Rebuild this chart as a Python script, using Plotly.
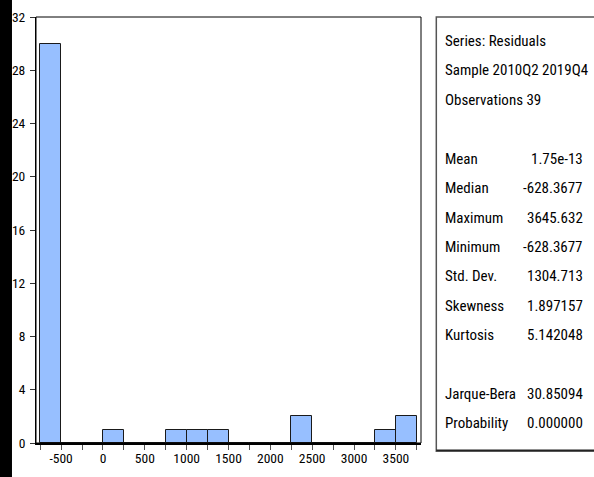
import plotly.graph_objects as go

# ---- data ----
bin_start = [-750, -500, -250, 0, 250, 500, 750, 1000, 1250, 1500, 1750, 2000, 2250, 2500, 2750, 3000, 3250, 3500]
counts = [30, 0, 0, 1, 0, 0, 1, 1, 1, 0, 0, 0, 2, 0, 0, 0, 1, 2]
bin_width = 250
x_tick_vals = [-750, -500, -250, 0, 250, 500, 750, 1000, 1250, 1500, 1750, 2000, 2250, 2500, 2750, 3000, 3250, 3500, 3750]
x_tick_text = ["", "-500", "", "0", "", "500", "", "1000", "", "1500", "", "2000", "", "2500", "", "3000", "", "3500", ""]
y_tick_vals = [0, 4, 8, 12, 16, 20, 24, 28, 32]

header_lines = ["Series: Residuals", "Sample 2010Q2 2019Q4", "Observations 39"]
stat_names = ["Mean", "Median", "Maximum", "Minimum", "Std. Dev.", "Skewness", "Kurtosis"]
stat_values = ["1.75e-13", "-628.3677", "3645.632", "-628.3677", "1304.713", "1.897157", "5.142048"]
test_names = ["Jarque-Bera", "Probability"]
test_values = ["30.85094", "0.000000"]

W, H = 594, 477
L, R, T, B = 36, 420.7, 17, 442.7
FONT = "Roboto Condensed, Liberation Sans Narrow, DejaVu Sans Condensed, sans-serif"
TXT_SIZE = 15
TICK_SIZE = 13.5

centers = [s + bin_width / 2 for s in bin_start]

fig = go.Figure()
fig.add_trace(go.Bar(
    x=centers, y=counts, width=[bin_width] * len(counts),
    marker=dict(color="#97bfff", line=dict(color="#1a1a1a", width=1)),
    hoverinfo="x+y",
))

def px(x):
    return (x - L) / (R - L)

def py(y):
    return (B - y) / (B - T)

shapes = []
# left black strip
shapes.append(dict(type="rect", xref="paper", yref="paper", x0=px(-2), x1=px(12), y0=py(H + 2), y1=py(-2),
                   fillcolor="black", line=dict(width=0), layer="above"))
# plot frame (thin) ; bottom axis drawn thicker by the axis line
shapes.append(dict(type="rect", xref="paper", yref="paper", x0=0, x1=1, y0=0, y1=1,
                   fillcolor="rgba(0,0,0,0)", line=dict(color="black", width=1), layer="above"))
# stats box with darker bottom edge
shapes.append(dict(type="rect", xref="paper", yref="paper", x0=px(436), x1=px(600), y0=py(451), y1=py(17),
                   fillcolor="white", line=dict(color="#555555", width=1.5)))
shapes.append(dict(type="line", xref="paper", yref="paper", x0=px(436), x1=px(600), y0=py(450), y1=py(450),
                   line=dict(color="#222222", width=1.5)))

annotations = []
def txt(text, x, y, anchor):
    annotations.append(dict(text=text, xref="paper", yref="paper", x=px(x), y=py(y), xanchor=anchor,
                            yanchor="middle", showarrow=False,
                            font=dict(family=FONT, size=TXT_SIZE, color="black")))

ROW0 = 41
STEP = 29.4
XL, XR = 443, 585
rows = [0, 1, 2]
for t, k in zip(header_lines, rows):
    txt(t, XL, ROW0 + k * STEP, "left")
for i, (n, v) in enumerate(zip(stat_names, stat_values)):
    yy = ROW0 + (4 + i) * STEP
    txt(n, XL, yy, "left")
    txt(v, XR, yy, "right")
for i, (n, v) in enumerate(zip(test_names, test_values)):
    yy = ROW0 + (12 + i) * STEP
    txt(n, XL, yy, "left")
    txt(v, XR, yy, "right")

fig.update_layout(
    width=W, height=H,
    margin=dict(l=L, r=W - R, t=T, b=H - B, pad=0),
    paper_bgcolor="white", plot_bgcolor="white",
    showlegend=False, bargap=0,
    shapes=shapes, annotations=annotations,
    font=dict(family=FONT, size=TICK_SIZE, color="black"),
)
fig.update_xaxes(range=[-800, 3800], tickvals=x_tick_vals, ticktext=x_tick_text,
                 ticks="outside", ticklen=5, tickcolor="#555", tickwidth=1,
                 showline=True, linecolor="black", linewidth=2, mirror=False,
                 showgrid=False, zeroline=False, fixedrange=True, automargin=False,
                 ticklabelstandoff=-3,
                 tickfont=dict(family=FONT, size=TICK_SIZE))
fig.update_yaxes(range=[0, 32], tickvals=y_tick_vals,
                 ticks="outside", ticklen=5, tickcolor="#333", tickwidth=1,
                 showline=True, linecolor="black", linewidth=1, mirror=False,
                 showgrid=False, zeroline=False, fixedrange=True, automargin=False,
                 ticklabelstandoff=2,
                 tickfont=dict(family=FONT, size=TICK_SIZE))

fig.write_html("out.html", config={"displayModeBar": False},
               post_script="document.body.style.margin='0';document.body.style.overflow='hidden';")
